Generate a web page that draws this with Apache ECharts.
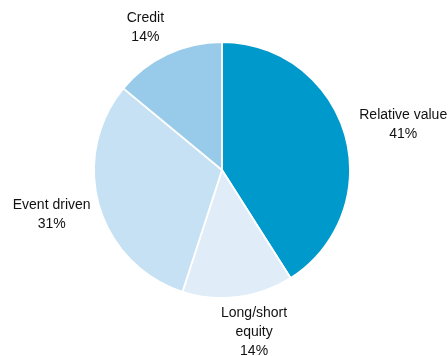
<!DOCTYPE html>
<html><head><meta charset="utf-8">
<script src="https://cdn.jsdelivr.net/npm/echarts@6/dist/echarts.min.js"></script>
<style>html,body{margin:0;padding:0;background:#fff}#c{width:448px;height:356px}</style>
</head><body><div id="c"></div>
<script>
const categories = ['Relative value', 'Long/short\nequity', 'Event driven', 'Credit'];
const values = [41, 14, 31, 14];
const colors = ['#0099CC', '#E0EDF8', '#C5E1F3', '#98CAEA'];

const CX = 222, CY = 170, R = 128;
const total = values.reduce((a, b) => a + b, 0);
const midAngles = [];
let acc = 0;
values.forEach(v => { midAngles.push((acc + v / 2) / total * 2 * Math.PI); acc += v; });
const labelShiftX = [2, 11, 4, -10];

const chart = echarts.init(document.getElementById('c'), null, {renderer: 'canvas'});
chart.setOption({
  animation: false,
  backgroundColor: '#fff',
  series: [{
    type: 'pie',
    center: [CX, CY],
    radius: [0, R],
    startAngle: 90,
    clockwise: true,
    avoidLabelOverlap: false,
    emphasis: {disabled: true},
    itemStyle: {borderColor: '#fff', borderWidth: 1.8},
    label: {
      show: true,
      position: 'outside',
      fontFamily: 'Liberation Sans, Arial, sans-serif',
      fontSize: 14,
      lineHeight: 19,
      color: '#111',
      align: 'center',
      formatter: p => p.name + '\n' + p.value + '%'
    },
    labelLine: {show: false},
    labelLayout: function (params) {
      const i = params.dataIndex;
      const a = midAngles[i];
      const s = Math.sin(a), c = Math.cos(a);
      const w = params.labelRect.width, h = params.labelRect.height;
      const gap = 6 + 9 * Math.abs(s);
      const x = CX + (R + gap) * s + s * w / 2 + labelShiftX[i];
      const y = CY - (R + gap) * c - c * h / 2;
      return {x: x, y: y, align: 'center', verticalAlign: 'middle'};
    },
    data: categories.map((n, i) => ({name: n, value: values[i], itemStyle: {color: colors[i]}}))
  }]
});
</script>
</body></html>
